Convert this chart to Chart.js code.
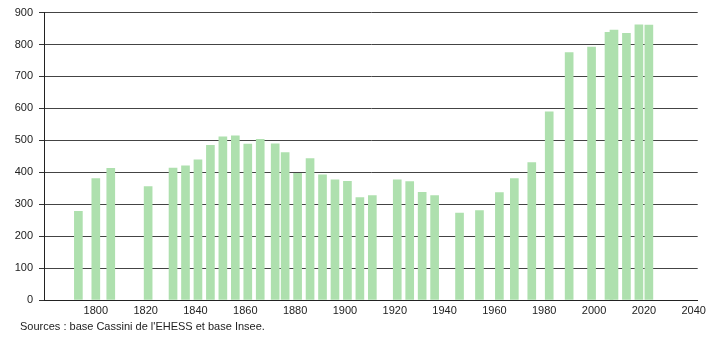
<!DOCTYPE html>
<html>
<head>
<meta charset="utf-8">
<script src="https://cdn.jsdelivr.net/npm/chart.js@4"></script>
<style>
  body { margin: 0; background: #fff; }
  #wrap { position: relative; width: 710px; height: 340px; }
  #source {
    position: absolute; left: 20px; top: 320px;
    font: 11px "Liberation Sans", Arial, sans-serif; color: #222;
  }
</style>
</head>
<body>
<div id="wrap">
  <canvas id="chart" width="710" height="340"></canvas>
  <div id="source">Sources : base Cassini de l'EHESS et base Insee.</div>
</div>
<script>
// années de recensement et population
let years = [1793, 1800, 1806, 1821, 1831, 1836, 1841, 1846, 1851, 1856, 1861, 1866,
  1872, 1876, 1881, 1886, 1891, 1896, 1901, 1906, 1911, 1921, 1926, 1931, 1936,
  1946, 1954, 1962, 1968, 1975, 1982, 1990, 1999, 2006, 2008, 2013, 2018, 2022];
let population = [278, 380, 412, 355, 413, 420, 439, 484, 511, 514, 488, 503,
  489, 462, 397, 443, 392, 376, 372, 321, 327, 376, 371, 337, 327,
  272, 280, 336, 380, 430, 589, 775, 792, 838, 845, 835, 862, 861];
let xTicks = [1800, 1820, 1840, 1860, 1880, 1900, 1920, 1940, 1960, 1980, 2000, 2020, 2040];
let yMax = 900;

let font = { family: "'Liberation Sans', Arial, sans-serif", size: 11 };

let chart = new Chart(document.getElementById("chart"), {
  type: "bar",
  data: {
    datasets: [
      {
        data: years.map((y, i) => ({ x: y, y: population[i] })),
        backgroundColor: "#aee0ae",
        borderWidth: 0,
        barThickness: 8,
      },
    ],
  },
  options: {
    responsive: false,
    animation: false,
    layout: { padding: { top: 11, right: 10, bottom: 20, left: 0 } },
    scales: {
      x: {
        type: "linear",
        offset: false,
        min: 1779.2,
        max: 2041.6,
        afterBuildTicks: (axis) => {
          axis.ticks = xTicks.map((v) => ({ value: v }));
        },
        afterFit: (axis) => { axis.height = 20; },
        grid: { display: false, offset: false, drawTicks: false },
        border: { display: true, color: "#222", width: 1 },
        ticks: {
          font: font,
          color: "#222",
          padding: 4,
          maxRotation: 0,
          autoSkip: false,
          callback: (v) => String(v),
        },
      },
      y: {
        min: 0,
        max: yMax,
        afterFit: (axis) => { axis.width = 44; },
        border: { display: true, color: "#222", width: 1 },
        grid: {
          color: (ctx) => (ctx.tick.value % 100 === 0 ? "#444" : "#cfcfcf"),
          tickColor: (ctx) => (ctx.tick.value % 100 === 0 ? "#333" : "#aaa"),
          tickLength: 5,
          lineWidth: 1,
        },
        ticks: {
          stepSize: 50,
          font: font,
          color: "#222",
          padding: 6,
          callback: (v) => (v % 100 === 0 ? v : ""),
        },
      },
    },
    plugins: {
      legend: { display: false },
      tooltip: { enabled: false },
    },
  },
});
</script>
</body>
</html>
